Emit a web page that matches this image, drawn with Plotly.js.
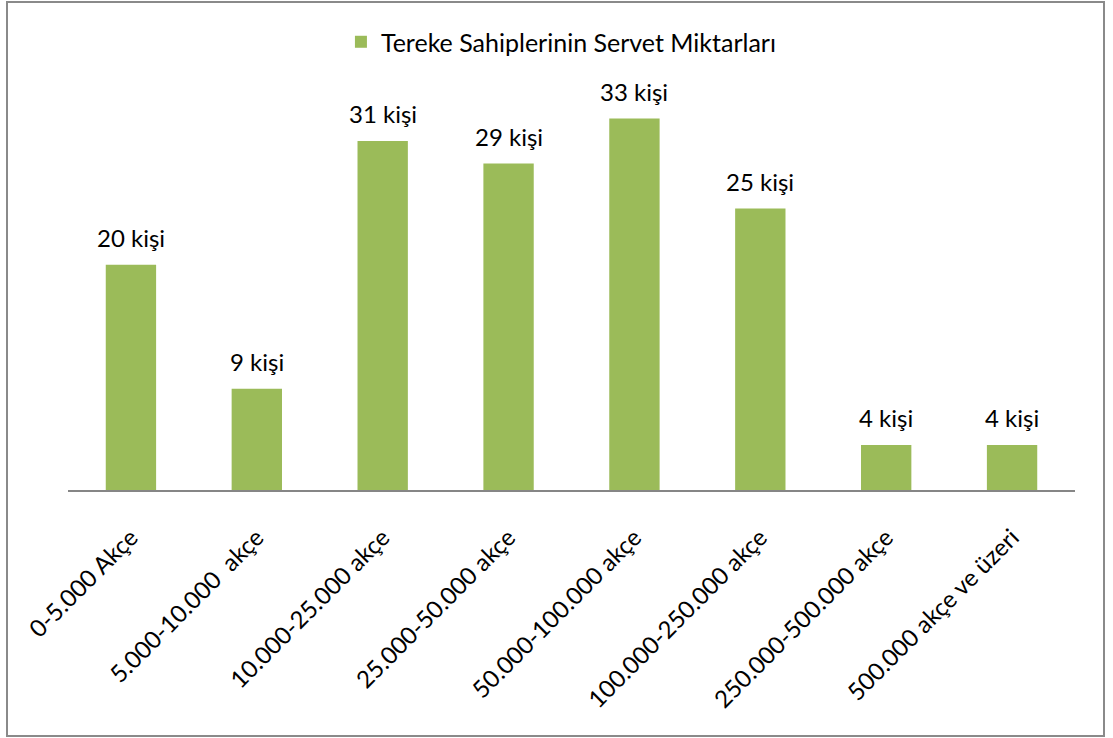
<!DOCTYPE html>
<html>
<head>
<meta charset="utf-8">
<script src="https://cdn.plot.ly/plotly-3.0.1.min.js"></script>
<style>
  html, body { margin: 0; padding: 0; background: #fff; }
  #chart { position: absolute; left: 0; top: 0; width: 1113px; height: 738px; }
  #frame { position: absolute; left: 6px; top: 1px; width: 1099px; height: 736px;
           border: 2px solid #8a8a8a; box-sizing: border-box; pointer-events: none; }
</style>
</head>
<body>
<div id="chart"></div>
<div id="frame"></div>
<script>
const categories = [
  "0-5.000 Akçe",
  "5.000-10.000\u00a0 akçe",
  "10.000-25.000 akçe",
  "25.000-50.000 akçe",
  "50.000-100.000 akçe",
  "100.000-250.000 akçe",
  "250.000-500.000 akçe",
  "500.000 akçe ve üzeri"
];
const counts = [20, 9, 31, 29, 33, 25, 4, 4];
const seriesName = "Tereke Sahiplerinin Servet Miktarları";
const labelSuffix = " kişi";

const font = "Lato, Open Sans, sans-serif";

const trace = {
  type: "bar",
  x: categories,
  y: counts,
  name: seriesName,
  marker: { color: "#9BBB59" },
  hoverinfo: "x+y"
};

const labels = categories.map((c, i) => ({
  x: c,
  y: counts[i],
  xref: "x",
  yref: "y",
  text: counts[i] + labelSuffix,
  showarrow: false,
  yanchor: "bottom",
  yshift: 11,
  font: { family: font, size: 24, color: "#000" }
}));

const layout = {
  width: 1113,
  height: 738,
  margin: { l: 68, r: 38, t: 96, b: 248 },
  paper_bgcolor: "#fff",
  plot_bgcolor: "#fff",
  bargap: 0.6,
  showlegend: true,
  annotations: labels,
  legend: {
    orientation: "h",
    x: 0.49, xanchor: "center",
    y: 1.137, yanchor: "middle",
    font: { family: font, size: 25, color: "#000" },
    itemwidth: 30
  },
  xaxis: {
    type: "category",
    tickangle: -45,
    showline: true,
    linecolor: "#868686",
    linewidth: 2,
    ticks: "",
    showgrid: false,
    ticklabelstandoff: 22,
    tickfont: { family: font, size: 24, color: "#000" }
  },
  yaxis: {
    range: [0, 35],
    visible: false,
    showgrid: false,
    zeroline: false
  }
};

Plotly.newPlot("chart", [trace], layout, { displayModeBar: false, staticPlot: true });
</script>
</body>
</html>
